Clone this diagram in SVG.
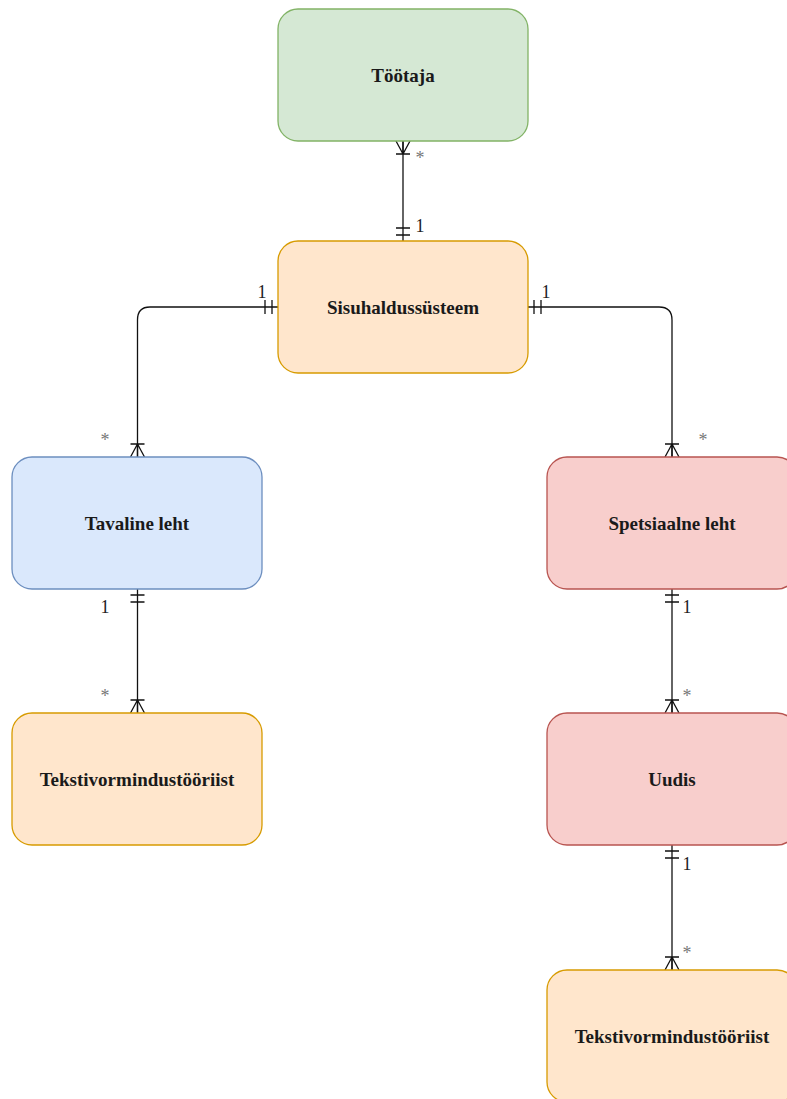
<svg xmlns="http://www.w3.org/2000/svg" width="787" height="1099" viewBox="0 0 787 1099">
<style>
.node{stroke-width:1.3}
.green{fill:#d5e8d4;stroke:#82b366}
.orange{fill:#ffe6cc;stroke:#d79b00}
.blue{fill:#dae8fc;stroke:#6c8ebf}
.red{fill:#f8cecc;stroke:#b85450}
.lbl{font-family:"Liberation Serif","Times New Roman",serif;font-weight:bold;font-size:19px;fill:#1a1a1a;text-anchor:middle;dominant-baseline:central}
.card{font-family:"Liberation Serif","Times New Roman",serif;font-size:18px;fill:#222;text-anchor:middle}
.star{fill:#777}
.edge{fill:none;stroke:#111;stroke-width:1.3}
</style>
<defs>
<marker id="one" viewBox="-2 -10 20 20" markerWidth="20" markerHeight="20" refX="0" refY="0" orient="auto" markerUnits="userSpaceOnUse" overflow="visible">
<path d="M6,-7V7M13,-7V7" fill="none" stroke="#111" stroke-width="1.3"/>
</marker>
<marker id="many" viewBox="-16 -10 20 20" markerWidth="20" markerHeight="20" refX="0" refY="0" orient="auto" markerUnits="userSpaceOnUse" overflow="visible">
<path d="M-13,-7V7M-13,0L0,-7M-13,0L0,7M-13,0L0,0" fill="none" stroke="#111" stroke-width="1.3"/>
</marker>
</defs>
<g id="connectors">
<path class="edge" d="M403,241V141" marker-start="url(#one)" marker-end="url(#many)"/>
<path class="edge" d="M278,307H150Q137.5,307 137.5,320V457" marker-start="url(#one)" marker-end="url(#many)"/>
<path class="edge" d="M528,307H659Q672,307 672,320V457" marker-start="url(#one)" marker-end="url(#many)"/>
<path class="edge" d="M137.5,589V713" marker-start="url(#one)" marker-end="url(#many)"/>
<path class="edge" d="M672,589V713" marker-start="url(#one)" marker-end="url(#many)"/>
<path class="edge" d="M672,845V970" marker-start="url(#one)" marker-end="url(#many)"/>
<text class="card star" x="420" y="164">*</text>
<text class="card" x="420" y="232">1</text>
<text class="card" x="262" y="298">1</text>
<text class="card star" x="105" y="446">*</text>
<text class="card" x="546" y="298">1</text>
<text class="card star" x="703" y="446">*</text>
<text class="card" x="105" y="613">1</text>
<text class="card star" x="105" y="702">*</text>
<text class="card" x="687" y="613">1</text>
<text class="card star" x="687" y="702">*</text>
<text class="card" x="687" y="870">1</text>
<text class="card star" x="687" y="959">*</text>
</g>
<g id="tootaja"><rect class="node green" x="278" y="9" width="250" height="132" rx="20"/><text class="lbl" x="403" y="75">Töötaja</text></g>
<g id="sisuhaldussusteem"><rect class="node orange" x="278" y="241" width="250" height="132" rx="20"/><text class="lbl" x="403" y="307">Sisuhaldussüsteem</text></g>
<g id="tavaline"><rect class="node blue" x="12" y="457" width="250" height="132" rx="20"/><text class="lbl" x="137" y="523">Tavaline leht</text></g>
<g id="spetsiaalne"><rect class="node red" x="547" y="457" width="250" height="132" rx="20"/><text class="lbl" x="672" y="523">Spetsiaalne leht</text></g>
<g id="tekst1"><rect class="node orange" x="12" y="713" width="250" height="132" rx="20"/><text class="lbl" x="137" y="779">Tekstivormindustööriist</text></g>
<g id="uudis"><rect class="node red" x="547" y="713" width="250" height="132" rx="20"/><text class="lbl" x="672" y="779">Uudis</text></g>
<g id="tekst2"><rect class="node orange" x="547" y="970" width="250" height="132" rx="20"/><text class="lbl" x="672" y="1036">Tekstivormindustööriist</text></g>
</svg>
